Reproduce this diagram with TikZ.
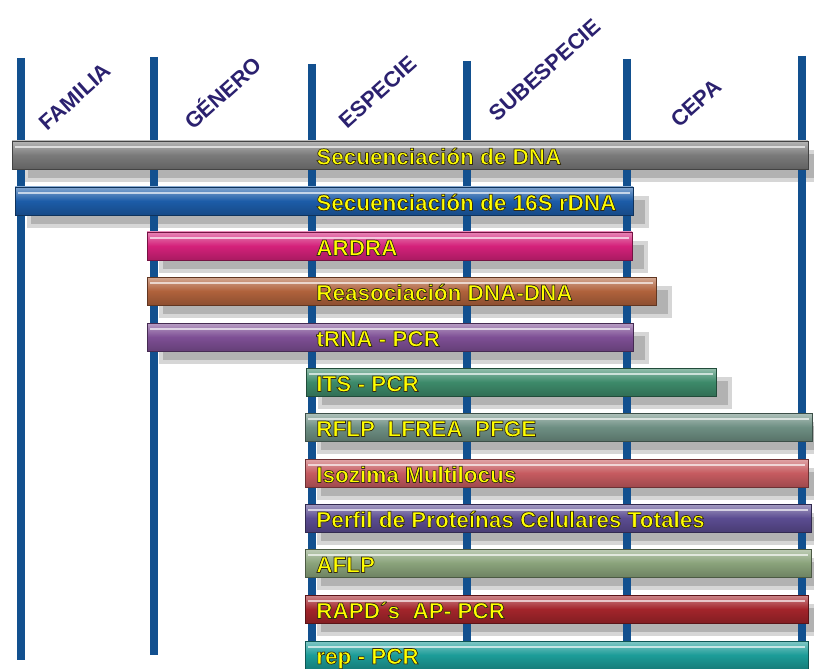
\documentclass[tikz,border=0pt]{standalone}
\usepackage{fontspec}
\setmainfont{Liberation Sans}

\definecolor{rankblue}{HTML}{12508F}
\definecolor{ranknavy}{HTML}{2B216F}
\definecolor{methodyellow}{HTML}{FFFF00}
\definecolor{seqgray}{HTML}{7A7A7A}
\definecolor{seqblue}{HTML}{1C5CA8}
\definecolor{ardra}{HTML}{D4217A}
\definecolor{reasoc}{HTML}{B0623C}
\definecolor{trna}{HTML}{7E4F95}
\definecolor{its}{HTML}{3D8A6A}
\definecolor{rflp}{HTML}{6E8F83}
\definecolor{isozima}{HTML}{C65B60}
\definecolor{perfil}{HTML}{5B4C91}
\definecolor{aflp}{HTML}{8AA37B}
\definecolor{rapd}{HTML}{A3252B}
\definecolor{rep}{HTML}{1C9C98}

% yellow letters with a dark rim (fill + stroke render mode)
\newcommand\glow[1]{\special{pdf:literal direct 2 Tr 0.5 w 0.2 0.17 0.08 RG}#1\special{pdf:literal direct 0 Tr}}

\tikzset{
  rank/.style={draw=rankblue, line width=5.7pt},
  ranklabel/.style={text=ranknavy, font=\bfseries\fontsize{15.5}{18}\selectfont, rotate=42},
  barshadow/.style={fill=black!30, draw=black!16, line width=2.5pt},
  methodbar/.style={draw=#1!55!black, line width=0.5pt,
    top color=#1!55!white, bottom color=#1!80!black, middle color=#1,
    path picture={\draw[white, opacity=.65, line width=1pt]
      ([xshift=2pt,yshift=-4.3pt]path picture bounding box.north west) --
      ([xshift=-2pt,yshift=-4.3pt]path picture bounding box.north east);}},
  method/.style={anchor=base west, inner sep=0pt, text=methodyellow,
    font=\bfseries\fontsize{16}{19}\selectfont},
}

\begin{document}
\begin{tikzpicture}[x=0.025cm, y=-0.025cm]
  \useasboundingbox (0,0) rectangle (814,669);

  % Shadows
  \filldraw[barshadow] (26,152) rectangle (822,180);
  \filldraw[barshadow] (29,198) rectangle (647,226);
  \filldraw[barshadow] (161,243) rectangle (646,271);
  \filldraw[barshadow] (161,288) rectangle (670,316);
  \filldraw[barshadow] (161,334) rectangle (647,362);
  \filldraw[barshadow] (320,379) rectangle (730,407);
  \filldraw[barshadow] (319,424) rectangle (826,452);
  \filldraw[barshadow] (319,470) rectangle (822,498);
  \filldraw[barshadow] (319,515) rectangle (825,543);
  \filldraw[barshadow] (319,560) rectangle (825,588);
  \filldraw[barshadow] (319,606) rectangle (822,634);

  % Rank lines
  \draw[rank] (21,58) -- (21,660);
  \draw[rank] (154,57) -- (154,655);
  \draw[rank] (312,64) -- (312,665);
  \draw[rank] (467,61) -- (467,665);
  \draw[rank] (627,59) -- (627,665);
  \draw[rank] (802,56) -- (802,665);

  % Method bars
  \draw[methodbar=seqgray] (12,141) rectangle (808,169);
  \draw[methodbar=seqblue] (15,187) rectangle (633,215);
  \draw[methodbar=ardra] (147,232) rectangle (632,260);
  \draw[methodbar=reasoc] (147,277) rectangle (656,305);
  \draw[methodbar=trna] (147,323) rectangle (633,351);
  \draw[methodbar=its] (306,368) rectangle (716,396);
  \draw[methodbar=rflp] (305,413) rectangle (812,441);
  \draw[methodbar=isozima] (305,459) rectangle (808,487);
  \draw[methodbar=perfil] (305,504) rectangle (811,532);
  \draw[methodbar=aflp] (305,549) rectangle (811,577);
  \draw[methodbar=rapd] (305,595) rectangle (808,623);
  \draw[methodbar=rep] (305,641) rectangle (808,669);

  % Method names
  \node[method] (dna)     at (316,164.5) {\glow{Secuenciación de DNA}};
  \node[method] (rdna)    at (316,210.5) {\glow{Secuenciación de 16S rDNA}};
  \node[method] (ardra)   at (316,255.5) {\glow{ARDRA}};
  \node[method] (reasoc)  at (316,300.5) {\glow{Reasociación DNA-DNA}};
  \node[method] (trna)    at (316,346.5) {\glow{tRNA - PCR}};
  \node[method] (its)     at (316,391.5) {\glow{ITS - PCR}};
  \node[method] (rflp)    at (316,436.5) {\glow{RFLP~~LFREA~~PFGE}};
  \node[method] (isozima) at (316,482.5) {\glow{Isozima Multilocus}};
  \node[method] (perfil)  at (316,527.5) {\glow{Perfil de Proteínas Celulares Totales}};
  \node[method] (aflp)    at (316,572.5) {\glow{AFLP}};
  \node[method] (rapd)    at (316,618.5) {\glow{RAPD´s~~AP- PCR}};
  \node[method] (reppcr)  at (316,664) {\glow{rep - PCR}};

  % Rank labels
  \node[ranklabel] (familia)    at (75,97)  {FAMILIA};
  \node[ranklabel] (genero)     at (222,92) {GÉNERO};
  \node[ranklabel] (especie)    at (378,92) {ESPECIE};
  \node[ranklabel] (subespecie) at (545,70) {SUBESPECIE};
  \node[ranklabel] (cepa)       at (696,103) {CEPA};
\end{tikzpicture}
\end{document}
